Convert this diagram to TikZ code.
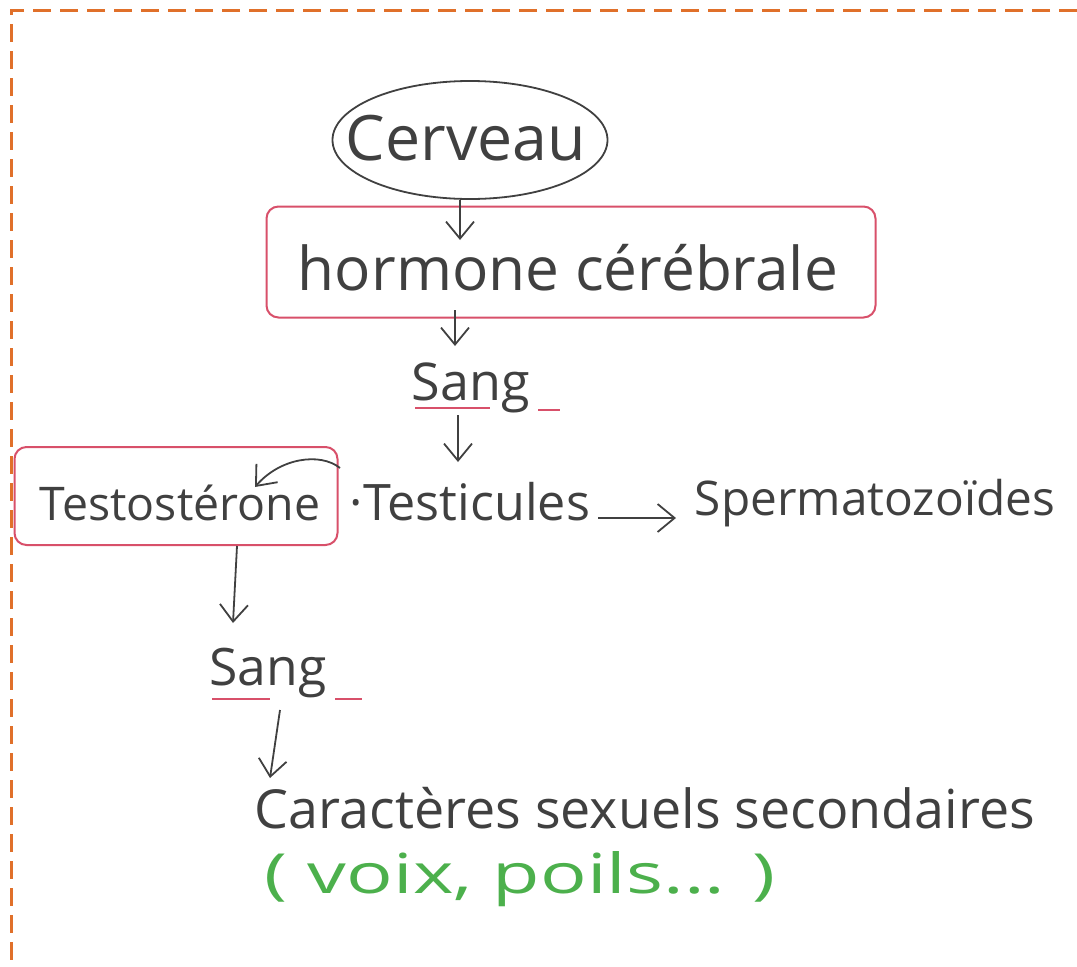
\documentclass[tikz,border=0pt]{standalone}
\usepackage{fontspec}
\setmainfont{Open Sans}
\usetikzlibrary{arrows.meta,shapes.geometric}
\definecolor{bord}{HTML}{E0702A}
\definecolor{ink}{HTML}{404040}
\definecolor{redink}{HTML}{D8506A}
\definecolor{greenink}{HTML}{4CB04C}
\newcommand{\hw}[2]{\resizebox{#1}{!}{#2}}
\begin{document}
\begin{tikzpicture}[x=1pt,y=-1pt,
  txt/.style={inner sep=0pt, text=ink, anchor=base},
  redbox/.style={draw=redink, line width=2pt, rounded corners=12pt, inner sep=0pt},
  arr/.style={draw=ink, line width=1.8pt, -{Straight Barb[length=17pt,width=28pt,line width=1.8pt]}},
  uline/.style={draw=redink, line width=2pt}]
\useasboundingbox (0,0) rectangle (1077,967);
\draw[bord, line width=3pt, dash pattern=on 18pt off 9pt] (1077,10) -- (11,10) -- (11,967);

% Cerveau
\node[ellipse, draw=ink, line width=1.8pt, minimum width=275pt, minimum height=118pt, inner sep=0pt] (cerveau) at (470,140) {};
\node[txt] (cerveautxt) at (466,160) {\hw{240pt}{Cerveau}};

% hormone cérébrale
\node[redbox, minimum width=609pt, minimum height=111pt] (hormone) at (571,262) {};
\node[txt] (hormonetxt) at (568,290) {\hw{540pt}{hormone cérébrale}};

% Sang 1
\node[txt] (sang1) at (471,400) {\hw{118pt}{Sang}};
\draw[uline] (415,408) -- (490,408);
\draw[uline] (538,410) -- (560,410);

% Testostérone
\node[redbox, minimum width=323pt, minimum height=98pt] (testo) at (176,496) {};
\node[txt] (testotxt) at (180,520) {\hw{280pt}{Testostérone}};

% Testicules
\node[txt] (testicules) at (470,520) {\hw{240pt}{·Testicules}};

% Spermatozoides
\node[txt] (sperm) at (875,515) {\hw{360pt}{Spermatozoïdes}};

% Sang 2
\node[txt] (sang2) at (268,685) {\hw{117pt}{Sang}};
\draw[uline] (212,699) -- (270,699);
\draw[uline] (335,699) -- (362,699);

% Caractères
\node[txt] (caract) at (645,828) {\hw{780pt}{Caractères sexuels secondaires}};
\node[txt, text=greenink] (voix) at (520,893) {\resizebox{510pt}{42pt}{( voix, poils... )}};

% arrow end points
\coordinate (a1e) at (460,240);
\coordinate (a2s) at (455,310);
\coordinate (a2e) at (455,346);
\coordinate (a3s) at (458,415);
\coordinate (a3e) at (458,462);
\coordinate (a4s) at (340,468);
\coordinate (a4e) at (255,487);
\coordinate (a5s) at (598,518);
\coordinate (a5e) at (676,518);
\coordinate (a6e) at (233,623);
\coordinate (a7s) at (280,710);
\coordinate (a7e) at (270,778);

\draw[arr] (cerveau.south) ++(-10,0) -- (a1e);
\draw[arr] (a2s) -- (a2e);
\draw[arr] (a3s) -- (a3e);
\draw[arr] (a4s) .. controls (320,452) and (280,458) .. (a4e);
\draw[arr] (a5s) -- (a5e);
\draw[arr] (testo.south -| a6e) ++(4,0) -- (a6e);
\draw[arr] (a7s) -- (a7e);
\end{tikzpicture}
\end{document}
